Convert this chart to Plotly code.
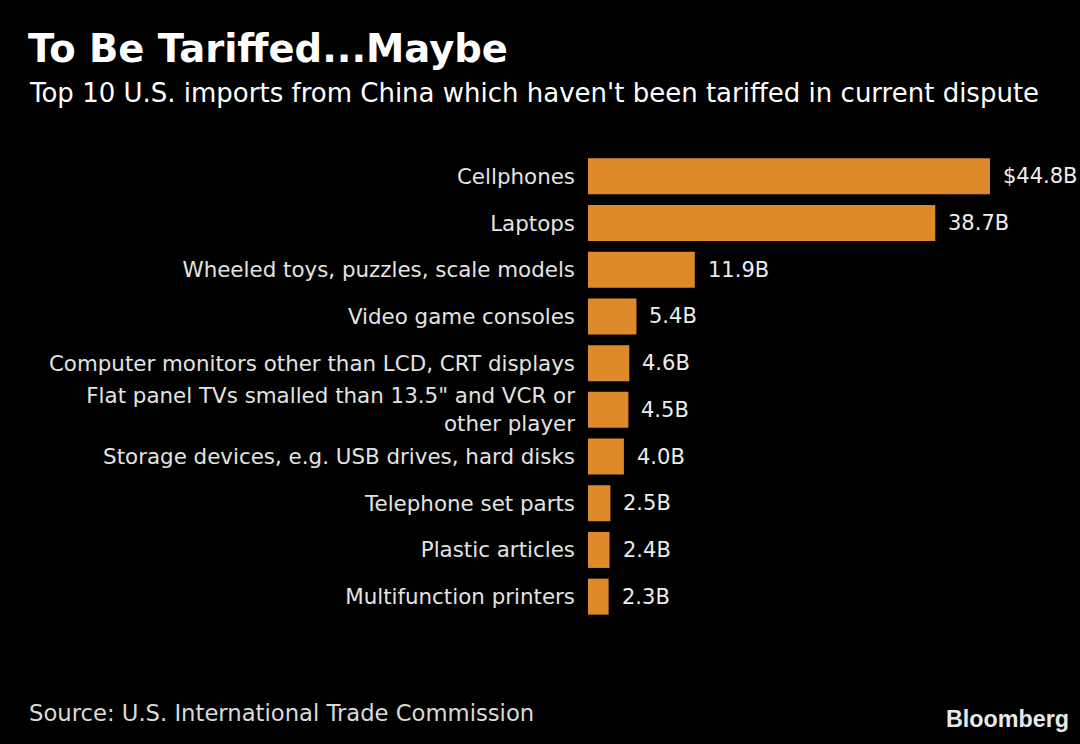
import plotly.graph_objects as go

categories = [
    "Cellphones",
    "Laptops",
    "Wheeled toys, puzzles, scale models",
    "Video game consoles",
    "Computer monitors other than LCD, CRT displays",
    "Flat panel TVs smalled than 13.5\" and VCR or<br>other player",
    "Storage devices, e.g. USB drives, hard disks",
    "Telephone set parts",
    "Plastic articles",
    "Multifunction printers",
]
values = [44.8, 38.7, 11.9, 5.4, 4.6, 4.5, 4.0, 2.5, 2.4, 2.3]
value_labels = ["$44.8B", "38.7B", "11.9B", "5.4B", "4.6B", "4.5B", "4.0B", "2.5B", "2.4B", "2.3B"]

BAR = "#DE8A2A"
LABEL_FONT = "DejaVu Sans"

fig = go.Figure()
fig.add_trace(go.Bar(
    x=values, y=categories, orientation="h",
    marker=dict(color=BAR, line=dict(width=0)),
    hoverinfo="skip",
))

for c, v, t in zip(categories, values, value_labels):
    fig.add_annotation(x=v, y=c, text=t, xref="x", yref="y",
                       xanchor="left", yanchor="middle", xshift=11, showarrow=False,
                       font=dict(family=LABEL_FONT, size=21, color="#EDEDED"))

L, R = 588, 30
T, B = 153, 124
plot_w = 1080 - L - R
plot_h = 744 - T - B
xmax = plot_w / ((990 - 588) / 44.8)

def px_x(x):
    return (x - L) / plot_w

def px_y(y):
    return 1 - (y - T) / plot_h

fig.update_layout(
    width=1080, height=744,
    paper_bgcolor="black", plot_bgcolor="black",
    margin=dict(l=L, r=R, t=T, b=B),
    bargap=0.23,
    showlegend=False,
    xaxis=dict(range=[0, xmax], visible=False, fixedrange=True),
    yaxis=dict(autorange="reversed", showgrid=False, zeroline=False, showline=False,
               ticks="", ticklabelstandoff=12, fixedrange=True,
               tickfont=dict(family=LABEL_FONT, size=21.4, color="#E3E3E3")),
    annotations=list(fig.layout.annotations) + [
        dict(text="<b>To Be Tariffed...Maybe</b>", xref="paper", yref="paper",
             x=px_x(26), y=px_y(48), xanchor="left", yanchor="middle",
             showarrow=False, font=dict(family="DejaVu Sans", size=38.5, color="white")),
        dict(text="Top 10 U.S. imports from China which haven't been tariffed in current dispute",
             xref="paper", yref="paper",
             x=px_x(27), y=px_y(93), xanchor="left", yanchor="middle",
             showarrow=False, font=dict(family="DejaVu Sans", size=26, color="white")),
        dict(text="Source: U.S. International Trade Commission", xref="paper", yref="paper",
             x=px_x(27), y=px_y(713), xanchor="left", yanchor="middle",
             showarrow=False, font=dict(family="DejaVu Sans", size=22.7, color="#DADADA")),
        dict(text="<b>Bloomberg</b>", xref="paper", yref="paper",
             x=px_x(1071), y=px_y(719), xanchor="right", yanchor="middle",
             showarrow=False, font=dict(family="Liberation Sans Narrow, Liberation Sans", size=23.3, color="#E8E8E8")),
    ],
)

fig.write_html("out.html", config={"displayModeBar": False},
               post_script="document.body.style.margin='0';document.body.style.background='black';")
